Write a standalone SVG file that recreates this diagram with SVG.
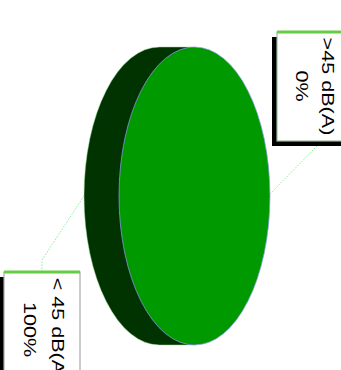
<svg xmlns="http://www.w3.org/2000/svg" width="341" height="370" viewBox="0 0 341 370">
<style>
.lbl{font-family:"Liberation Sans",Arial,sans-serif;font-size:17px;fill:#000;text-anchor:middle}
.box{fill:#fff;stroke:#99bb99;stroke-width:1.2}
.top{stroke:#66cc44;stroke-width:3}
.shadow{fill:#000}
.lead{fill:none;stroke:#88ee99;stroke-width:1;stroke-dasharray:1.5 1.5}
</style>
<rect width="341" height="370" fill="#fff"/>
<g id="pie">
<path d="M194.5,47 L159.5,47 A75.5,149 0 0 0 159.5,345 L194.5,345 Z" fill="#003300" stroke="#99dd99" stroke-width="0.5"/>
<ellipse cx="194.5" cy="196" rx="75.5" ry="149" fill="#009900" stroke="#9999ff" stroke-width="0.7"/>
</g>
<g id="connectors">
<polyline class="lead" points="270,194 317,146"/>
<polyline class="lead" points="84,196 42,260 42,272"/>
</g>
<g id="label-high">
<rect class="shadow" x="272" y="37" width="80" height="109"/>
<rect class="box" x="277" y="32" width="76" height="109"/>
<line class="top" x1="277" y1="32" x2="341" y2="32"/>
<text class="lbl" transform="translate(322,86.5) rotate(90) scale(1.27,1)">&gt;45 dB(A)</text>
<text class="lbl" transform="translate(296,86) rotate(90) scale(1.27,1)">0%</text>
</g>
<g id="label-low">
<rect class="shadow" x="-1" y="277" width="76" height="115"/>
<rect x="4" y="272" width="76" height="115" fill="#fff" stroke="#aaaaaa" stroke-width="1.2"/>
<line class="top" x1="4" y1="272" x2="80" y2="272"/>
<text class="lbl" transform="translate(52,329.5) rotate(90) scale(1.27,1)">&lt; 45 dB(A)</text>
<text class="lbl" transform="translate(24,329.5) rotate(90) scale(1.27,1)">100%</text>
</g>
</svg>
